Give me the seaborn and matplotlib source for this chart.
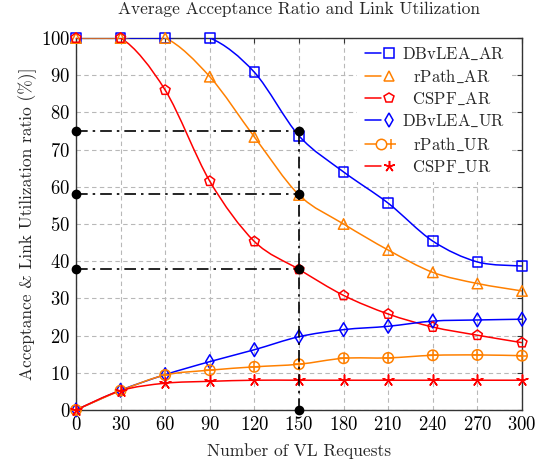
import numpy as np
import pandas as pd
import matplotlib
matplotlib.use("Agg")
import matplotlib.pyplot as plt
import seaborn as sns
from matplotlib.path import Path
from matplotlib.patches import PathPatch
from matplotlib.lines import Line2D
from matplotlib.legend_handler import HandlerTuple

requests = [0, 30, 60, 90, 120, 150, 180, 210, 240, 270, 300]

dbvlea_ar = [100, 100, 100, 100, 90.8, 73.7, 64.0, 55.6, 45.4, 39.8, 38.7]
rpath_ar = [100, 100, 100, 89.6, 73.4, 57.8, 50.0, 43.0, 37.0, 34.0, 32.0]
cspf_ar = [100, 100, 86.0, 61.5, 45.3, 37.8, 30.8, 25.8, 22.3, 20.1, 18.1]
dbvlea_ur = [0, 5.3, 9.5, 13.0, 16.2, 19.7, 21.6, 22.5, 23.9, 24.2, 24.4]
rpath_ur = [0, 5.2, 9.4, 10.7, 11.6, 12.3, 13.9, 14.0, 14.7, 14.8, 14.6]
cspf_ur = [0, 5.2, 7.2, 7.7, 8.0, 8.0, 8.0, 8.0, 8.0, 8.0, 8.0]

# highlighted operating points at 150 requests
ref_x = 150
ref_levels = [75, 58, 38]

ORANGE = "#ff8000"
STAR = (5, 2, 0)
series = [
    ("DBvLEA_AR", dbvlea_ar, "blue", ["s"], 7),
    ("rPath_AR", rpath_ar, ORANGE, ["^"], 7.5),
    ("CSPF_AR", cspf_ar, "red", ["p"], 7.5),
    ("DBvLEA_UR", dbvlea_ur, "blue", ["d"], 7),
    ("rPath_UR", rpath_ur, ORANGE, ["o", "+"], 7.5),
    ("CSPF_UR", cspf_ur, "red", [STAR], 8),
]
LEG_FS = 12


def smooth_path(x, y, k=0.16):
    # cubic bezier through the points, like pgfplots "smooth"
    p = np.column_stack([x, y]).astype(float)
    verts = [p[0]]
    codes = [Path.MOVETO]
    n = len(p)
    for i in range(n - 1):
        prev = p[i - 1] if i > 0 else p[i]
        nxt = p[i + 2] if i + 2 < n else p[i + 1]
        c1 = p[i] + k * (p[i + 1] - prev)
        c2 = p[i + 1] - k * (nxt - p[i])
        verts += [c1, c2, p[i + 1]]
        codes += [Path.CURVE4] * 3
    return Path(verts, codes)


def tex_label(s):
    return "\\mathrm{" + s.replace("_", "\\_") + "}"


def is_line_marker(m):
    return m == "+" or m == STAR


sns.set_theme(style="whitegrid")
plt.rcParams["font.family"] = ["cmr10", "DejaVu Serif"]
plt.rcParams["mathtext.fontset"] = "cm"
plt.rcParams["axes.formatter.use_mathtext"] = True

fig = plt.figure(figsize=(5.45, 4.62), dpi=100)
ax = fig.add_axes([0.1394, 0.1126, 0.8184, 0.8051])

for name, vals, color, markers, ms in series:
    df = pd.DataFrame({"x": requests, "y": vals})
    ax.add_patch(PathPatch(smooth_path(df["x"], df["y"]), fill=False,
                           edgecolor=color, lw=1.1, zorder=3))
    for m in markers:
        sns.scatterplot(data=df, x="x", y="y", ax=ax, marker=m, s=ms ** 2,
                        facecolor=color if is_line_marker(m) else "none",
                        edgecolor=color, linewidth=1.1, zorder=4, clip_on=False, legend=False)

# dash-dot guide lines
dashdot = (0, (7, 3, 1.5, 3))
for lvl in ref_levels:
    ax.plot([0, ref_x], [lvl, lvl], color="black", lw=1.2, ls=dashdot, zorder=5)
    ax.plot([0, ref_x], [lvl, lvl], "o", color="black", ms=6, zorder=6, clip_on=False)
ax.plot([ref_x, ref_x], [0, max(ref_levels)], color="black", lw=1.2, ls=dashdot, zorder=5)
ax.plot([ref_x], [0], "o", color="black", ms=6, zorder=6, clip_on=False)

ax.set_xlim(0, 300)
ax.set_ylim(0, 100)
ax.set_xticks(requests)
ax.set_yticks(range(0, 101, 10))
ax.grid(True, color="#b8b8b8", ls=(0, (4, 3)), lw=0.8)
ax.set_facecolor("white")
for s in ax.spines.values():
    s.set_visible(True)
    s.set_color("#333333")
    s.set_linewidth(1.0)
ax.tick_params(labelsize=13.5, direction="in", length=3.5, width=0.8, pad=4,
               color="#333333", labelcolor="black", top=True, right=True)
ax.set_xlabel("Number of VL Requests", fontsize=12.5, labelpad=7)
ax.set_ylabel("Acceptance & Link Utilization ratio (%)]", fontsize=12.5, labelpad=3)
ax.set_title("Average Acceptance Ratio and Link Utilization", fontsize=12.5, pad=17)

# legend labels are centred in their column, as in pgfplots
renderer = fig.canvas.get_renderer()
widths = []
for s in series:
    t = fig.text(0, 0, "$" + tex_label(s[0]) + "$", fontsize=LEG_FS)
    widths.append(t.get_window_extent(renderer).width)
    t.remove()
em_px = LEG_FS * fig.dpi / 72
labels = []
for s, w in zip(series, widths):
    pad = (max(widths) - w) / 2 / em_px
    lab = "$" + ("\\hspace{%.3f}" % pad if pad > 0 else "") + tex_label(s[0]) + "$"
    labels.append(lab)

handles = []
for name, vals, color, markers, ms in series:
    parts = [Line2D([], [], color=color, lw=1.1)]
    for m in markers:
        parts.append(Line2D([], [], ls="none", marker=m, markersize=ms,
                            markerfacecolor="none", markeredgecolor=color, markeredgewidth=1.1))
    handles.append(tuple(parts))
leg = ax.legend(handles=handles, labels=labels,
                handler_map={tuple: HandlerTuple(ndivide=None, pad=0)},
                loc="upper right", bbox_to_anchor=(0.978, 1.0), fontsize=LEG_FS,
                frameon=True, fancybox=False,
                edgecolor="none", facecolor="white", framealpha=1, borderaxespad=0,
                handlelength=1.9, labelspacing=0.36, handletextpad=0.3, borderpad=0.45)
leg.set_zorder(2.4)

fig.savefig("out.png", dpi=100)
